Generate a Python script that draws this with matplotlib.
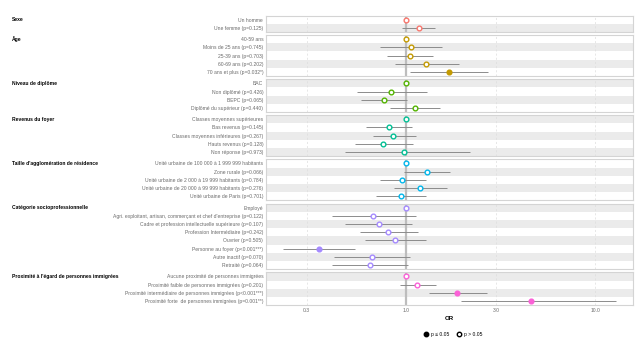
import matplotlib
matplotlib.use('Agg')
import matplotlib.pyplot as plt
import matplotlib.transforms as transforms
from matplotlib.lines import Line2D
import numpy as np

plt.rcParams['font.family'] = ['Liberation Sans', 'DejaVu Sans']

groups = [
    'Sexe',
    'Âge',
    'Niveau de diplôme',
    'Revenus du foyer',
    "Taille d'agglomération de résidence",
    'Catégorie socioprofessionnelle',
    "Proximité à l'égard de personnes immigrées",
]

labels = [
    ['Un homme', 'Une femme (p=0.125)'],
    ['40-59 ans', 'Moins de 25 ans (p=0.745)', '25-39 ans (p=0.703)',
     '60-69 ans (p=0.202)', '70 ans et plus (p=0.032*)'],
    ['BAC', 'Non diplômé (p=0.426)', 'BEPC (p=0.065)', 'Diplômé du supérieur (p=0.440)'],
    ['Classes moyennes supérieures', 'Bas revenus (p=0.145)',
     'Classes moyennes inférieures (p=0.267)', 'Hauts revenus (p=0.128)',
     'Non réponse (p=0.973)'],
    ['Unité urbaine de 100 000 à 1 999 999 habitants', 'Zone rurale (p=0.066)',
     'Unité urbaine de 2 000 à 19 999 habitants (p=0.784)',
     'Unité urbaine de 20 000 à 99 999 habitants (p=0.276)',
     'Unité urbaine de Paris (p=0.701)'],
    ['Employé', "Agri. exploitant, artisan, commerçant et chef d'entreprise (p=0.122)",
     'Cadre et profession intellectuelle supérieure (p=0.107)',
     'Profession Intermédiaire (p=0.242)', 'Ouvrier (p=0.505)',
     'Personne au foyer (p<0.001***)', 'Autre inactif (p=0.070)', 'Retraité (p=0.064)'],
    ['Aucune proximité de personnes immigrées',
     'Proximité faible de personnes immigrées (p=0.201)',
     'Proximité intermédiaire de personnes immigrées (p<0.001***)',
     'Proximité forte  de personnes immigrées (p=0.001**)'],
]

odds = [
    [1.0, 1.17],
    [1.0, 1.06, 1.05, 1.28, 1.68],
    [1.0, 0.84, 0.77, 1.12],
    [1.0, 0.82, 0.86, 0.76, 0.98],
    [1.0, 1.29, 0.96, 1.19, 0.94],
    [1.0, 0.67, 0.72, 0.81, 0.88, 0.35, 0.66, 0.65],
    [1.0, 1.15, 1.86, 4.57],
]
ci_low = [
    [np.nan, 0.96],
    [np.nan, 0.73, 0.80, 0.88, 1.05],
    [np.nan, 0.55, 0.58, 0.83],
    [np.nan, 0.62, 0.67, 0.54, 0.48],
    [np.nan, 0.98, 0.73, 0.87, 0.70],
    [np.nan, 0.41, 0.48, 0.57, 0.61, 0.224, 0.42, 0.41],
    [np.nan, 0.93, 1.32, 1.96],
]
ci_high = [
    [np.nan, 1.43],
    [np.nan, 1.56, 1.39, 1.90, 2.73],
    [np.nan, 1.30, 1.02, 1.52],
    [np.nan, 1.08, 1.13, 1.09, 2.18],
    [np.nan, 1.72, 1.28, 1.64, 1.28],
    [np.nan, 1.13, 1.08, 1.16, 1.28, 0.54, 1.05, 1.03],
    [np.nan, 1.44, 2.67, 12.9],
]
pvalues = [
    [np.nan, 0.125],
    [np.nan, 0.745, 0.703, 0.202, 0.032],
    [np.nan, 0.426, 0.065, 0.440],
    [np.nan, 0.145, 0.267, 0.128, 0.973],
    [np.nan, 0.066, 0.784, 0.276, 0.701],
    [np.nan, 0.122, 0.107, 0.242, 0.505, 0.0005, 0.070, 0.064],
    [np.nan, 0.201, 0.0005, 0.001],
]

colors = ['#F8766D', '#C49A00', '#53B400', '#00C094', '#00B6EB', '#A58AFF', '#FB61D7']

W, H = 636, 358
fig = plt.figure(figsize=(W / 100, H / 100), dpi=100)

nrows = [len(l) for l in labels]
left, right = 266 / W, 633 / W
top, bottom = 1 - 15.5 / H, 1 - 305.2 / H
gap = 3.1 / H
row_h = (top - bottom - gap * (len(groups) - 1)) / sum(nrows)

lo_all = np.nanmin([v for g in ci_low for v in g])
hi_all = np.nanmax([v for g in ci_high for v in g])
span = np.log10(hi_all) - np.log10(lo_all)
xlim = (10 ** (np.log10(lo_all) - 0.05 * span), 10 ** (np.log10(hi_all) + 0.05 * span))

y_top = top
row_index = 0
for gi, g in enumerate(groups):
    n = nrows[gi]
    h = n * row_h
    ax = fig.add_axes([left, y_top - h, right - left, h])
    y_top -= h + gap

    ax.set_xscale('log')
    ax.set_xlim(xlim)
    ax.set_ylim(n - 0.5, -0.5)

    # alternating stripes run across all panels
    for i in range(n):
        if (row_index + i) % 2 == 1:
            ax.axhspan(i - 0.5, i + 0.5, color='#ebebeb', lw=0, zorder=0)
    row_index += n

    for xv in [0.3, 3.0, 10.0]:
        ax.axvline(xv, color='#dddddd', lw=0.5, ls=(0, (3, 3)), zorder=1)
    ax.axvline(1.0, color='#bdbdbd', lw=1.6, zorder=1)

    y = np.arange(n)
    ax.hlines(y, ci_low[gi], ci_high[gi], color='#8c8c8c', lw=0.7, zorder=2)
    for i in range(n):
        sig = pvalues[gi][i] <= 0.05
        ax.plot(odds[gi][i], i, 'o', ms=3.4, mew=1.0, mec=colors[gi],
                mfc=colors[gi] if sig else 'white', zorder=3)

    ax.set_yticks(y)
    ax.set_yticklabels(labels[gi], fontsize=3.6, color='#6b6b6b')
    ax.tick_params(axis='y', length=0, pad=2)
    ax.tick_params(axis='x', which='both', length=0)
    ax.xaxis.set_minor_locator(matplotlib.ticker.NullLocator())
    for s in ax.spines.values():
        s.set_color('#d4d4d4')
        s.set_linewidth(0.8)

    trans = transforms.blended_transform_factory(fig.transFigure, ax.transData)
    ax.text(12 / W, 0, g, transform=trans, fontsize=3.6, fontweight='bold',
            va='center', ha='left', color='black')

    ax.set_xticks([0.3, 1.0, 3.0, 10.0])
    if gi < len(groups) - 1:
        ax.set_xticklabels([])
    else:
        ax.set_xticklabels(['0.3', '1.0', '3.0', '10.0'], fontsize=3.6, color='#6b6b6b')
        ax.tick_params(axis='x', pad=2)
        ax.set_xlabel('OR', fontsize=4.4, fontweight='bold', labelpad=2)

handles = [
    Line2D([], [], marker='o', ls='', ms=3.2, mew=1.0, mec='black', mfc='black', label='p ≤ 0.05'),
    Line2D([], [], marker='o', ls='', ms=3.2, mew=1.0, mec='black', mfc='white', label='p > 0.05'),
]
fig.legend(handles=handles, loc='center', bbox_to_anchor=(453 / W, 1 - 334.5 / H), ncol=2,
           frameon=False, fontsize=3.6, handletextpad=0.4, columnspacing=1.5, handlelength=1.0)

fig.savefig('out.png', dpi=100)
